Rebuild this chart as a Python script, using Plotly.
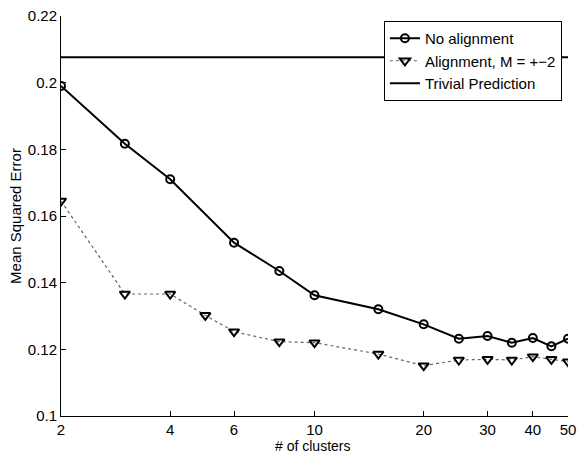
import plotly.graph_objects as go

x_none = [2, 3, 4, 6, 8, 10, 15, 20, 25, 30, 35, 40, 45, 50]
y_none = [0.199, 0.1817, 0.171, 0.152, 0.1435, 0.1362, 0.1320, 0.1275, 0.1232, 0.1240, 0.1220, 0.1234, 0.1209, 0.1232]

x_align = [2, 3, 4, 5, 6, 8, 10, 15, 20, 25, 30, 35, 40, 45, 50]
y_align = [0.1645, 0.1366, 0.1366, 0.1302, 0.1253, 0.1223, 0.1220, 0.1186, 0.1151, 0.1168, 0.1170, 0.1168, 0.1178, 0.1170, 0.1163]

x_trivial = [2, 50]
y_trivial = [0.2076, 0.2076]

x_ticks = [2, 4, 6, 10, 20, 30, 40, 50]
y_ticks = [0.1, 0.12, 0.14, 0.16, 0.18, 0.2, 0.22]
y_ticklabels = ["0.1", "0.12", "0.14", "0.16", "0.18", "0.2", "0.22"]

fig = go.Figure()
fig.add_trace(go.Scatter(
    x=x_none, y=y_none, name="No alignment", mode="lines+markers",
    line=dict(color="black", width=2),
    marker=dict(symbol="circle-open", size=8, color="black", line=dict(width=2)),
))
fig.add_trace(go.Scatter(
    x=x_align, y=y_align, name="Alignment, M = +\u22122", mode="lines+markers",
    line=dict(color="#666666", width=1.2, dash="dot"),
    marker=dict(symbol="triangle-down-open", size=9, color="black", line=dict(width=2)),
))
fig.add_trace(go.Scatter(
    x=x_trivial, y=y_trivial, name="Trivial Prediction", mode="lines",
    line=dict(color="black", width=2),
))

font = "Liberation Sans, Arial, sans-serif"
fig.update_layout(
    width=577, height=453,
    margin=dict(l=61, r=9, t=16, b=37),
    paper_bgcolor="white", plot_bgcolor="white",
    font=dict(family=font, size=15, color="black"),
    showlegend=True,
    legend=dict(
        x=0.988, y=0.9875, xanchor="right", yanchor="top",
        bgcolor="white", bordercolor="black", borderwidth=1,
        font=dict(size=15), tracegroupgap=0, itemwidth=30,
    ),
    xaxis=dict(
        type="log", range=[0.30103, 1.69897], automargin=False,
        tickmode="array", tickvals=x_ticks, ticktext=[str(v) for v in x_ticks],
        ticks="inside", ticklen=5, tickcolor="black",
        showline=True, linecolor="black", linewidth=1, mirror=False,
        showgrid=False, zeroline=False,
    ),
    yaxis=dict(
        range=[0.1, 0.22], automargin=False,
        tickmode="array", tickvals=y_ticks, ticktext=y_ticklabels,
        ticks="inside", ticklen=5, tickcolor="black",
        showline=True, linecolor="black", linewidth=1, mirror=False,
        showgrid=False, zeroline=False,
        title=dict(text="Mean Squared Error", font=dict(size=15), standoff=2),
    ),
    annotations=[dict(
        text="# of clusters", xref="paper", yref="paper", x=0.497, y=0,
        xanchor="center", yanchor="top", yshift=-21, showarrow=False,
        font=dict(size=14), borderpad=0,
    )],
)

fig.write_html(
    "out.html",
    config={"displayModeBar": False},
    post_script="document.body.style.margin='0px';document.body.style.overflow='hidden';",
)
